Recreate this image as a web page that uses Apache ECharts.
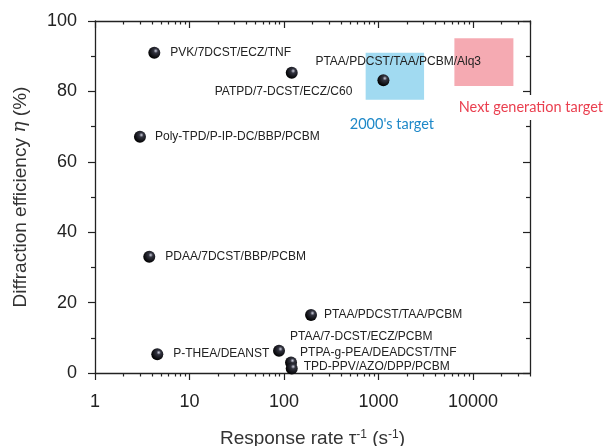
<!DOCTYPE html>
<html>
<head>
<meta charset="utf-8" />
<title>Diffraction efficiency vs response rate</title>
<script src="https://cdn.jsdelivr.net/npm/echarts@6/dist/echarts.min.js"></script>
<style>
  html, body { margin: 0; padding: 0; background: #fff; }
  #main { width: 605px; height: 446px; }
</style>
</head>
<body>
<div id="main"></div>
<script type="text/javascript">
// materials (label text), response rate (s^-1), diffraction efficiency (%)
var materials = [
    'PVK/7DCST/ECZ/TNF',
    'PATPD/7-DCST/ECZ/C60',
    'PTAA/PDCST/TAA/PCBM/Alq3',
    'Poly-TPD/P-IP-DC/BBP/PCBM',
    'PDAA/7DCST/BBP/PCBM',
    'PTAA/PDCST/TAA/PCBM',
    'PTAA/7-DCST/ECZ/PCBM',
    'P-THEA/DEANST',
    'PTPA-g-PEA/DEADCST/TNF',
    'TPD-PPV/AZO/DPP/PCBM'
];
var rates = [4.24, 120.6, 1125, 2.99, 3.75, 193, 88.5, 4.56, 118.6, 120.6];
var efficiency = [91.0, 85.3, 83.2, 67.1, 33.0, 16.5, 6.3, 5.3, 3.0, 1.3];

// target boxes: [rate from, rate to, eff from, eff to]
var targetNames = ["2000's target", 'Next generation target'];
var targetBoxes = [
    [730, 3030, 77.6, 91.0],
    [6340, 26700, 81.5, 95.1]
];

var xTicks = [1, 10, 100, 1000, 10000];
var xMinorTicks = [];
xTicks.forEach(function (d) {
    for (var k = 2; k <= 9; k++) {
        if (d * k <= 40000) xMinorTicks.push(d * k);
    }
});

// where each label sits relative to its dot
var labelOffsets = [
    [10, 0], [-83, 19], [-74, -18], [9, 0], [10, 0],
    [7, 0], [5, -14], [10, -1], [3, -10], [6, -2]
];

var ink = '#222';
var font = '"Liberation Sans", Arial, sans-serif';

var myChart = echarts.init(document.getElementById('main'));

var points = materials.map(function (m, i) {
    return {
        name: m,
        value: [rates[i], efficiency[i]],
        label: { offset: labelOffsets[i] }
    };
});

var sphere = {
    type: 'radial', x: 0.62, y: 0.35, r: 0.65,
    colorStops: [
        { offset: 0, color: '#cfd1e0' },
        { offset: 0.28, color: '#32333f' },
        { offset: 1, color: '#000' }
    ]
};

function logAxis(pos, minor, showLabel, inside) {
    return {
        type: 'log',
        logBase: 10,
        min: 1,
        max: 40000,
        position: pos,
        axisLine: { show: !minor, onZero: false, lineStyle: { color: ink, width: 1.3 } },
        axisTick: {
            show: true,
            inside: inside,
            length: minor ? 3.5 : 7,
            lineStyle: { color: ink, width: 1.2 },
            customValues: minor ? xMinorTicks : xTicks
        },
        axisLabel: {
            show: showLabel,
            customValues: xTicks,
            margin: 20,
            color: ink,
            fontSize: 18,
            fontFamily: font,
            formatter: function (v) { return String(v); }
        },
        splitLine: { show: false }
    };
}

var xAxes = [
    logAxis('bottom', false, true, false),
    logAxis('bottom', true, false, false),
    logAxis('top', false, false, true),
    logAxis('top', true, false, true)
];
xAxes[0].name = 'Response rate \u03c4{sup|-1} (s{sup|-1})';
xAxes[0].nameLocation = 'middle';
xAxes[0].nameGap = 56;
xAxes[0].nameTextStyle = {
    color: '#333', fontSize: 19, fontFamily: font,
    rich: { sup: { fontSize: 12, verticalAlign: 'top', color: '#333', fontFamily: font } }
};

function valAxis(pos, inside, showLabel) {
    return {
        type: 'value',
        min: 0,
        max: 100,
        interval: 20,
        position: pos,
        axisLine: { show: true, onZero: false, lineStyle: { color: ink, width: 1.3 } },
        axisTick: { show: true, inside: inside, length: 7, lineStyle: { color: ink, width: 1.2 } },
        minorTick: { show: true, splitNumber: 2, length: 4, lineStyle: { color: ink, width: 1.2 } },
        axisLabel: { show: showLabel, margin: 18, color: ink, fontSize: 18, fontFamily: font },
        splitLine: { show: false }
    };
}

var yAxes = [valAxis('left', false, true), valAxis('right', true, false)];
yAxes[0].name = '{a|Diffraction efficiency }{i|\u03b7}{a| (%)}';
yAxes[0].nameLocation = 'middle';
yAxes[0].nameGap = 65;
yAxes[0].nameTextStyle = {
    rich: {
        a: { color: '#333', fontSize: 19, fontFamily: font },
        i: { color: '#333', fontSize: 19, fontFamily: 'DejaVu Serif, serif', fontStyle: 'italic' }
    }
};

var boxStyles = [
    { fill: 'rgba(130, 205, 236, 0.75)', text: '#1e88c8', label: { position: 'bottom', distance: 12, offset: [-3, 0] } },
    { fill: 'rgba(240, 130, 142, 0.68)', text: '#ea3f4f', label: { position: 'bottom', distance: 9, offset: [47, 0] } }
];

var boxes = targetBoxes.map(function (b, i) {
    return [
        {
            name: targetNames[i],
            coord: [b[0], b[3]],
            itemStyle: { color: boxStyles[i].fill },
            label: {
                show: true,
                position: boxStyles[i].label.position,
                distance: boxStyles[i].label.distance,
                offset: boxStyles[i].label.offset,
                color: boxStyles[i].text,
                fontSize: 14.5,
                fontFamily: 'Lato, "Open Sans", sans-serif',
                backgroundColor: '#fff',
                padding: [5, 2, 5, 2]
            }
        },
        { coord: [b[1], b[2]] }
    ];
});

var option = {
    animation: false,
    backgroundColor: '#fff',
    grid: { left: 95, right: 75, top: 21, bottom: 73, containLabel: false, outerBoundsMode: 'none' },
    xAxis: xAxes,
    yAxis: yAxes,
    series: [
        {
            type: 'scatter',
            xAxisIndex: 0,
            yAxisIndex: 0,
            symbolSize: 12,
            data: points,
            itemStyle: { color: sphere, opacity: 1 },
            label: {
                show: true,
                position: 'right',
                distance: 0,
                formatter: '{b}',
                color: ink,
                fontSize: 12,
                fontFamily: font
            },
            z: 2
        },
        {
            type: 'scatter',
            xAxisIndex: 0,
            yAxisIndex: 0,
            data: [],
            markArea: { silent: true, data: boxes },
            z: 3
        }
    ]
};
myChart.setOption(option);
</script>
</body>
</html>
